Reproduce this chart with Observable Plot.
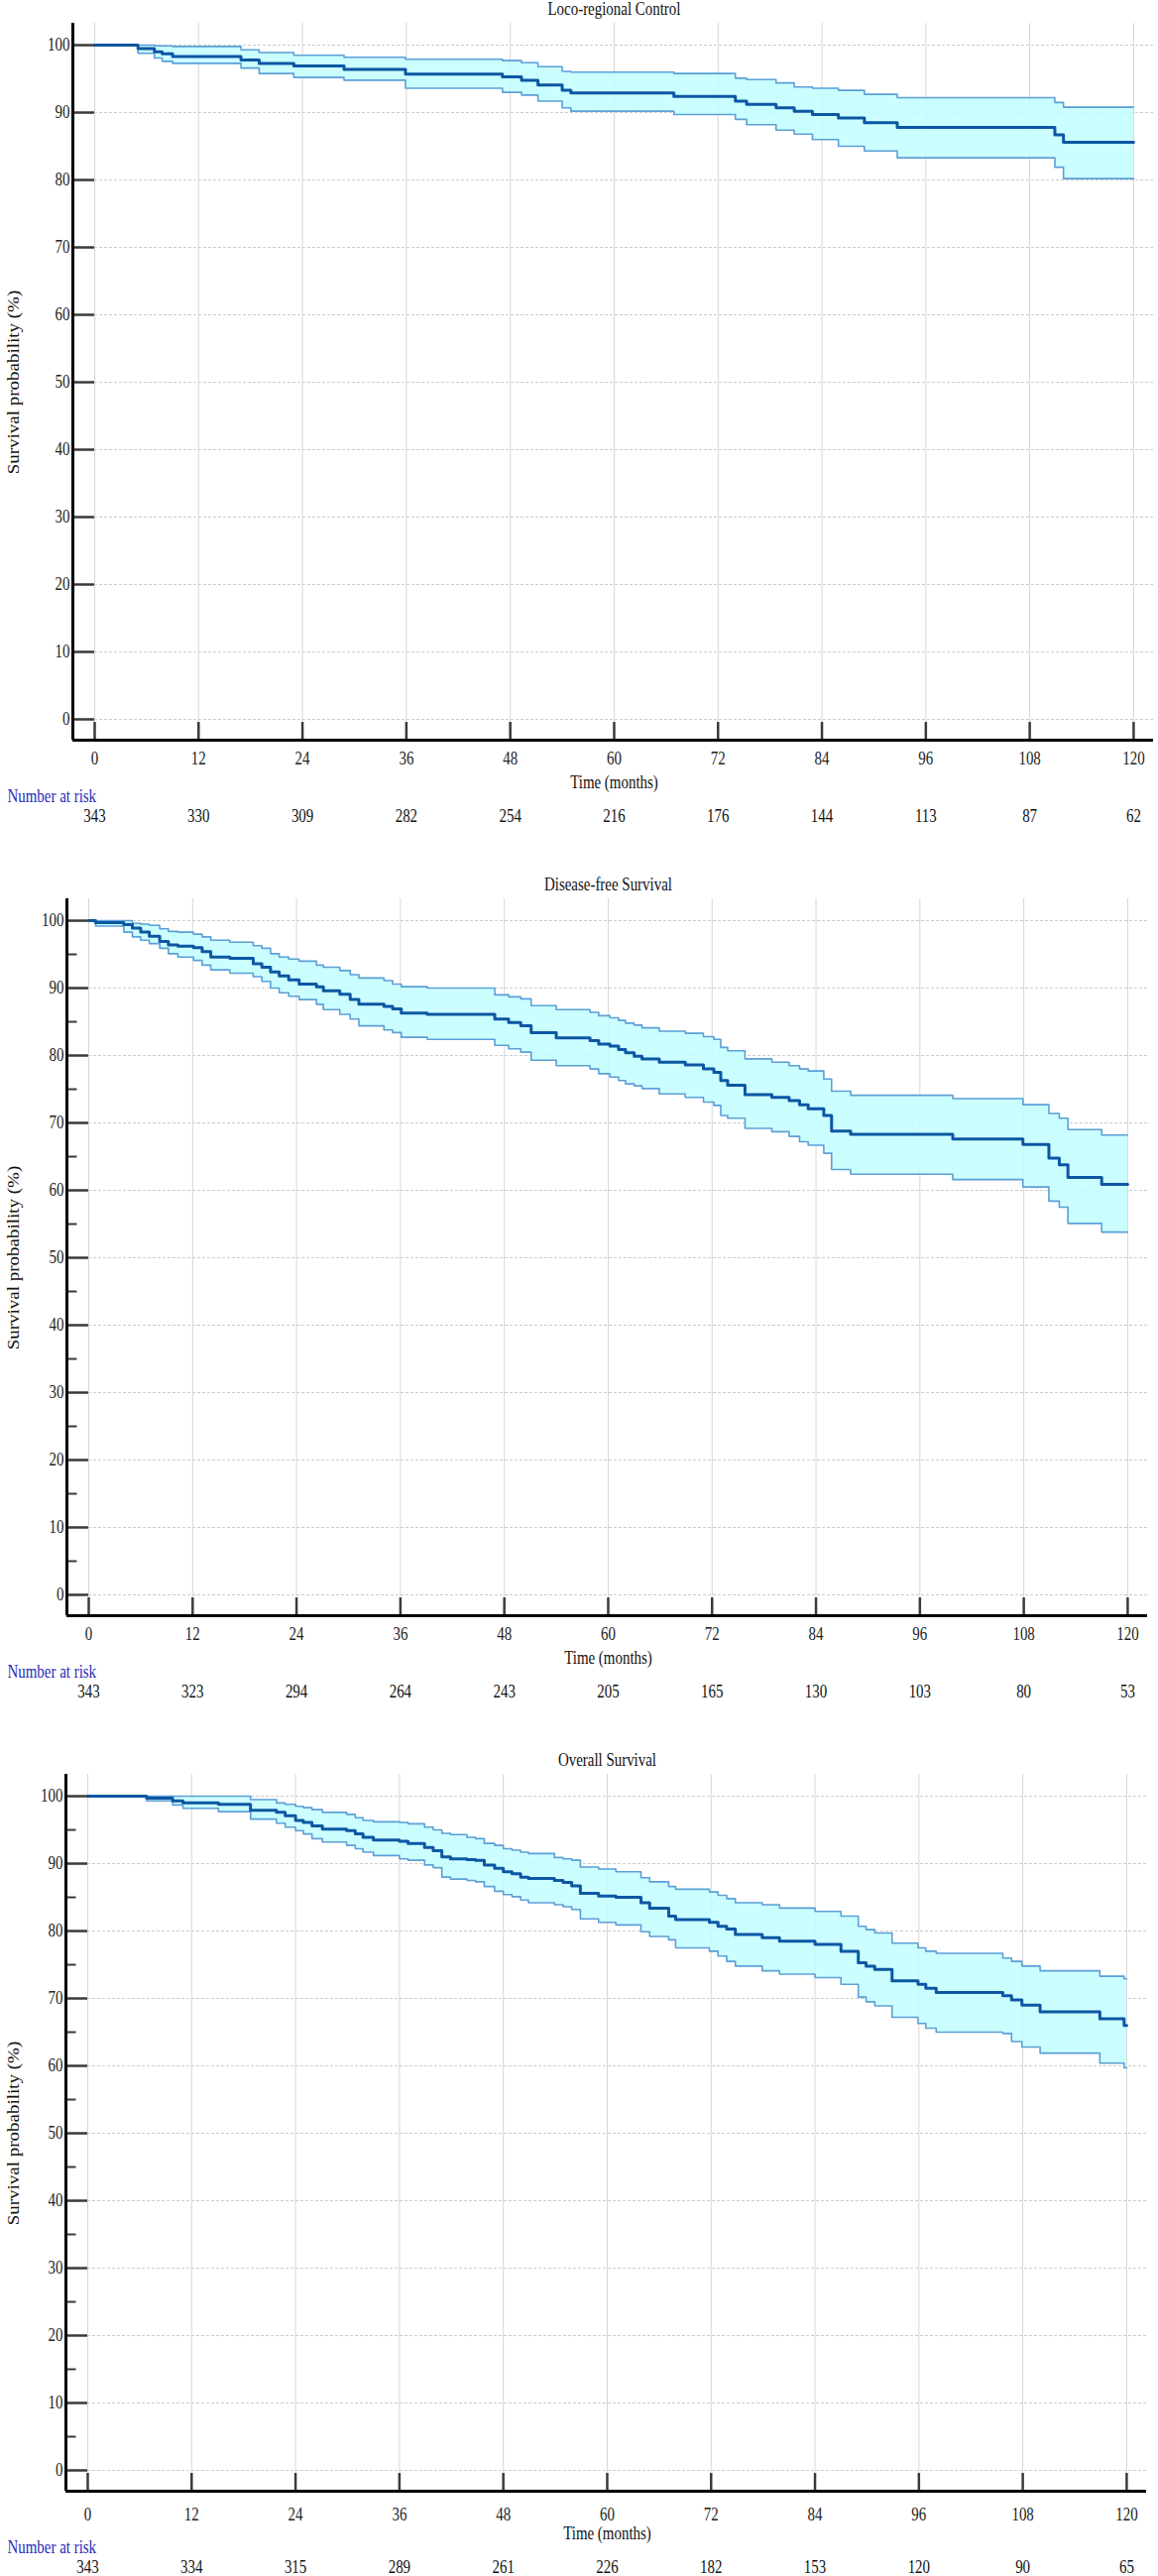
<!DOCTYPE html>
<html>
<head>
<meta charset="utf-8">
<script src="https://cdn.jsdelivr.net/npm/d3@7"></script>
<script src="https://cdn.jsdelivr.net/npm/@observablehq/plot@0.6"></script>
<style>
  html, body { margin: 0; padding: 0; background: #fff; }
  #chart { width: 1168px; }
  #chart svg { display: block; }
</style>
</head>
<body>
<div id="chart"></div>
<script>
// ---------- shared ticks / labels ----------
const xTicks = [0, 12, 24, 36, 48, 60, 72, 84, 96, 108, 120];
const yTicks = [0, 10, 20, 30, 40, 50, 60, 70, 80, 90, 100];
const yMinorTicks = [5, 15, 25, 35, 45, 55, 65, 75, 85, 95];
const xLabel = "Time (months)";
const yLabel = "Survival probability (%)";
const riskLabel = "Number at risk";

// ---------- Loco-regional Control ----------
const lrcTitle = "Loco-regional Control";
const lrcTime  = [0, 5.0, 6.9, 7.8, 9.0, 16.9, 19.0, 23.0, 28.8, 35.9, 47.1, 49.3, 51.2, 54.0, 55.0, 66.9, 74.0, 75.3, 78.7, 80.8, 82.9, 85.9, 88.9, 92.7, 110.9, 111.9, 120];
const lrcSurv  = [100, 99.5, 99.0, 98.7, 98.3, 97.8, 97.3, 96.9, 96.4, 95.7, 95.3, 94.8, 94.1, 93.3, 92.9, 92.4, 91.7, 91.2, 90.7, 90.2, 89.7, 89.2, 88.5, 87.8, 86.7, 85.6, 85.6];
const lrcLower = [100, 98.8, 98.1, 97.6, 97.3, 96.6, 95.8, 95.2, 94.8, 93.6, 93.0, 92.6, 91.7, 90.7, 90.2, 89.7, 89.0, 88.2, 87.4, 86.8, 86.0, 85.0, 84.3, 83.3, 81.9, 80.2, 80.2];
const lrcUpper = [100, 100, 99.9, 99.9, 99.8, 99.3, 98.9, 98.5, 98.2, 97.9, 97.7, 97.4, 96.8, 96.1, 96.0, 95.8, 95.1, 94.9, 94.4, 93.8, 93.6, 93.3, 92.7, 92.2, 91.5, 90.8, 90.8];
const lrcAtRisk = [343, 330, 309, 282, 254, 216, 176, 144, 113, 87, 62];

// ---------- Disease-free Survival ----------
const dfsTitle = "Disease-free Survival";
const dfsTime  = [0, 0.8, 4.05, 5.04, 6.0, 7.0, 8.2, 9.2, 10.3, 12.1, 13.1, 14.1, 16.3, 19.0, 20.0, 21.0, 22.0, 23.1, 24.3, 26.3, 27.1, 29.0, 30.2, 31.2, 34.1, 35.1, 36.1, 39.1, 46.9, 48.5, 49.9, 51.1, 54.0, 57.9, 58.9, 60.2, 61.2, 62.0, 63.0, 63.9, 65.9, 68.9, 71.0, 72.2, 73.0, 73.8, 75.8, 78.9, 80.9, 82.1, 83.1, 84.9, 85.8, 88.0, 99.8, 107.9, 110.9, 112.1, 113.1, 117.0, 120];
const dfsSurv  = [100, 99.7, 99.4, 98.9, 98.3, 97.7, 96.9, 96.4, 96.2, 96.0, 95.4, 94.6, 94.4, 93.6, 93.1, 92.4, 91.8, 91.2, 90.6, 90.2, 89.6, 89.1, 88.3, 87.6, 87.3, 86.9, 86.3, 86.1, 85.4, 84.9, 84.4, 83.4, 82.6, 82.2, 81.7, 81.4, 80.9, 80.4, 79.9, 79.5, 79.0, 78.6, 78.0, 77.5, 76.3, 75.6, 74.2, 73.8, 73.3, 72.7, 72.1, 71.1, 68.8, 68.3, 67.6, 66.8, 64.8, 63.8, 61.9, 60.9, 60.9];
const dfsLower = [100, 99.2, 98.3, 97.6, 97.1, 96.6, 95.9, 95.1, 94.6, 94.1, 93.4, 92.7, 92.2, 91.7, 91.0, 90.0, 89.3, 88.8, 88.3, 87.6, 86.8, 86.1, 85.4, 84.4, 83.8, 83.4, 82.7, 82.4, 81.5, 81.0, 80.5, 79.3, 78.5, 78.0, 77.3, 76.8, 76.3, 75.8, 75.5, 75.1, 74.3, 73.8, 73.1, 72.6, 71.1, 70.7, 69.2, 68.7, 68.0, 67.2, 66.7, 65.5, 63.1, 62.4, 61.6, 60.5, 58.4, 57.5, 55.1, 53.8, 53.8];
const dfsUpper = [100, 100, 100, 99.6, 99.5, 99.3, 98.8, 98.4, 98.3, 98.0, 97.6, 97.1, 96.8, 96.3, 95.9, 95.1, 94.6, 94.3, 94.0, 93.4, 93.1, 92.6, 92.0, 91.5, 91.1, 90.6, 90.2, 90.0, 89.0, 88.7, 88.4, 87.4, 86.8, 86.4, 85.9, 85.6, 85.2, 84.8, 84.5, 84.1, 83.6, 83.3, 82.8, 82.4, 81.2, 80.7, 79.5, 79.0, 78.5, 78.0, 77.7, 76.5, 74.7, 74.1, 73.6, 72.7, 71.4, 70.7, 69.0, 68.2, 68.2];
const dfsAtRisk = [343, 323, 294, 264, 243, 205, 165, 130, 103, 80, 53];

// ---------- Overall Survival ----------
const osTitle = "Overall Survival";
const osTime  = [0, 6.8, 9.8, 11.0, 15.1, 18.8, 21.8, 22.8, 24.0, 24.9, 25.9, 27.1, 29.9, 30.9, 31.8, 33.0, 36.0, 37.0, 38.9, 39.9, 40.9, 41.9, 43.8, 44.8, 45.8, 47.0, 48.0, 49.0, 50.0, 50.9, 53.9, 54.9, 55.9, 56.9, 59.0, 61.0, 63.9, 64.9, 67.1, 67.9, 71.8, 72.8, 73.8, 74.8, 77.9, 79.9, 84.0, 87.0, 89.0, 89.9, 90.9, 92.9, 95.9, 96.8, 98.0, 105.7, 106.7, 107.9, 110.0, 116.9, 119.7, 120];
const osSurv  = [100, 99.7, 99.3, 99.0, 98.8, 97.9, 97.6, 97.1, 96.4, 96.1, 95.6, 95.1, 94.9, 94.4, 93.9, 93.5, 93.3, 93.0, 92.4, 91.9, 91.0, 90.7, 90.6, 90.5, 89.8, 89.3, 88.8, 88.5, 88.0, 87.8, 87.5, 87.2, 86.7, 85.6, 85.2, 85.0, 84.2, 83.4, 82.2, 81.7, 81.3, 80.7, 80.3, 79.5, 79.0, 78.5, 78.0, 77.0, 75.3, 74.8, 74.3, 72.6, 72.1, 71.5, 70.9, 70.4, 69.8, 69.0, 68.0, 67.0, 66.0, 66.0];
const osLower = [100, 99.3, 98.7, 98.2, 97.7, 96.6, 96.0, 95.4, 94.9, 94.4, 93.7, 93.2, 92.7, 92.2, 91.7, 91.2, 90.7, 90.5, 89.8, 89.4, 88.0, 87.7, 87.5, 87.3, 86.6, 85.9, 85.4, 85.1, 84.6, 84.2, 83.9, 83.6, 83.2, 81.8, 81.3, 80.9, 79.9, 79.2, 78.7, 77.5, 77.0, 76.3, 75.5, 74.8, 74.1, 73.6, 73.1, 72.1, 70.2, 69.5, 68.9, 67.2, 66.3, 65.6, 65.0, 64.8, 63.6, 62.8, 61.9, 60.4, 59.7, 59.7];
const osUpper = [100, 100, 100, 100, 100, 99.5, 99.0, 98.8, 98.5, 98.3, 98.0, 97.6, 97.3, 96.8, 96.4, 96.2, 96.1, 95.9, 95.4, 95.0, 94.5, 94.3, 93.9, 93.7, 93.0, 92.7, 92.2, 92.0, 91.7, 91.5, 90.9, 90.7, 90.5, 89.5, 89.2, 88.8, 87.9, 87.3, 86.6, 86.2, 85.8, 85.3, 84.8, 84.2, 83.9, 83.4, 82.9, 82.2, 80.7, 80.2, 79.7, 78.2, 77.5, 77.0, 76.7, 76.0, 75.5, 74.8, 74.1, 73.3, 72.9, 72.9];
const osAtRisk = [343, 334, 315, 289, 261, 226, 182, 153, 120, 90, 65];

// ---------- drawing ----------
const X_MIN = -2.52, X_MAX = 122.3, Y_MIN = -3.09, Y_MAX = 103.24;
const FONT = "'Liberation Serif', 'Times New Roman', serif";

const panels = [
  {title: lrcTitle, time: lrcTime, surv: lrcSurv, lower: lrcLower, upper: lrcUpper, atRisk: lrcAtRisk,
   height: 883, marginLeft: 73, marginRight: 5, minor: false, tickDy: 19},
  {title: dfsTitle, time: dfsTime, surv: dfsSurv, lower: dfsLower, upper: dfsUpper, atRisk: dfsAtRisk,
   height: 883, marginLeft: 67, marginRight: 11, minor: true, tickDy: 19},
  {title: osTitle, time: osTime, surv: osSurv, lower: osLower, upper: osUpper, atRisk: osAtRisk,
   height: 832, marginLeft: 66, marginRight: 12, minor: true, tickDy: 24}
];

function drawPanel(p) {
  const rows = p.time.map((t, i) => ({t, s: p.surv[i], lo: p.lower[i], up: p.upper[i]}));
  const risk = xTicks.map((t, i) => ({t, n: p.atRisk[i]}));
  const marks = [
    // grid
    Plot.ruleY(yTicks, {x1: 0, x2: X_MAX, stroke: "#cccccc", strokeWidth: 1, strokeDasharray: "3,2"}),
    Plot.ruleX(xTicks, {y1: Y_MIN, y2: Y_MAX, stroke: "#d6d6d6", strokeWidth: 1}),
    // confidence band
    Plot.areaY(rows, {x: "t", y1: "lo", y2: "up", curve: "step-after", fill: "#c2ffff", fillOpacity: 0.85}),
    Plot.line(rows, {x: "t", y: "lo", curve: "step-after", stroke: "#5b9fd6", strokeWidth: 1.6}),
    Plot.line(rows, {x: "t", y: "up", curve: "step-after", stroke: "#5b9fd6", strokeWidth: 1.6}),
    // survival curve
    Plot.line(rows, {x: "t", y: "s", curve: "step-after", stroke: "#0d56a3", strokeWidth: 3}),
    // y ticks
    Plot.ruleY(yTicks, {x1: X_MIN, x2: 0, stroke: "#3a3a3a", strokeWidth: 2.5}),
    p.minor ? Plot.ruleY(yMinorTicks, {x1: X_MIN, x2: X_MIN + 1.2, stroke: "#3a3a3a", strokeWidth: 2}) : null,
    Plot.text(yTicks, {x: X_MIN, y: d => d, text: d => String(d), dx: -3, textAnchor: "end", fill: "#222", fontSize: 18}),
    // x ticks
    Plot.ruleX(xTicks, {y1: Y_MIN, y2: -0.45, stroke: "#3a3a3a", strokeWidth: 2.5}),
    Plot.text(xTicks, {x: d => d, y: Y_MIN, text: d => String(d), dy: p.tickDy, fill: "#222", fontSize: 18}),
    // axis lines
    Plot.ruleX([X_MIN], {y1: Y_MIN, y2: Y_MAX, stroke: "#000", strokeWidth: 3}),
    Plot.ruleY([Y_MIN], {x1: X_MIN, x2: X_MAX, stroke: "#000", strokeWidth: 3}),
    // labels
    Plot.text([p.title], {x: 60, y: Y_MAX, text: d => d, dy: -14, fill: "#111", fontSize: 18}),
    Plot.text([xLabel], {x: 60, y: Y_MIN, text: d => d, dy: 43, fill: "#111", fontSize: 18}),
    Plot.text([yLabel], {x: X_MIN, y: 50, text: d => d, dx: 13 - p.marginLeft, rotate: -90, fill: "#111", fontSize: 19}),
    Plot.text([riskLabel], {x: X_MIN, y: Y_MIN, text: d => d, dx: 7 - p.marginLeft, dy: 57, textAnchor: "start", fill: "#2a2ab8", fontSize: 18}),
    Plot.text(risk, {x: "t", y: Y_MIN, text: d => String(d.n), dy: 77, fill: "#111", fontSize: 18})
  ].filter(Boolean);

  const svg = Plot.plot({
    width: 1168,
    height: p.height,
    marginLeft: p.marginLeft,
    marginRight: p.marginRight,
    marginTop: 23,
    marginBottom: p.height - 746,
    x: {domain: [X_MIN, X_MAX], axis: null},
    y: {domain: [Y_MIN, Y_MAX], axis: null},
    style: {fontFamily: FONT, fontSize: "18px", background: "#fff", overflow: "visible"},
    marks
  });

  // narrow the serif glyphs (the reference text is condensed horizontally)
  svg.querySelectorAll("text").forEach(t => {
    const tr = t.getAttribute("transform") || "";
    const s = tr.includes("rotate") ? " scale(1,0.83)" : " scale(0.83,1)";
    if (tr.includes("translate")) {
      t.setAttribute("transform", tr + s);
    } else {
      const x = +(t.getAttribute("x") || 0), y = +(t.getAttribute("y") || 0);
      t.removeAttribute("x"); t.removeAttribute("y");
      t.setAttribute("transform", `${tr} translate(${x},${y})${s}`);
    }
  });
  return svg;
}

const root = document.getElementById("chart");
panels.forEach(p => root.appendChild(drawPanel(p)));
</script>
</body>
</html>
